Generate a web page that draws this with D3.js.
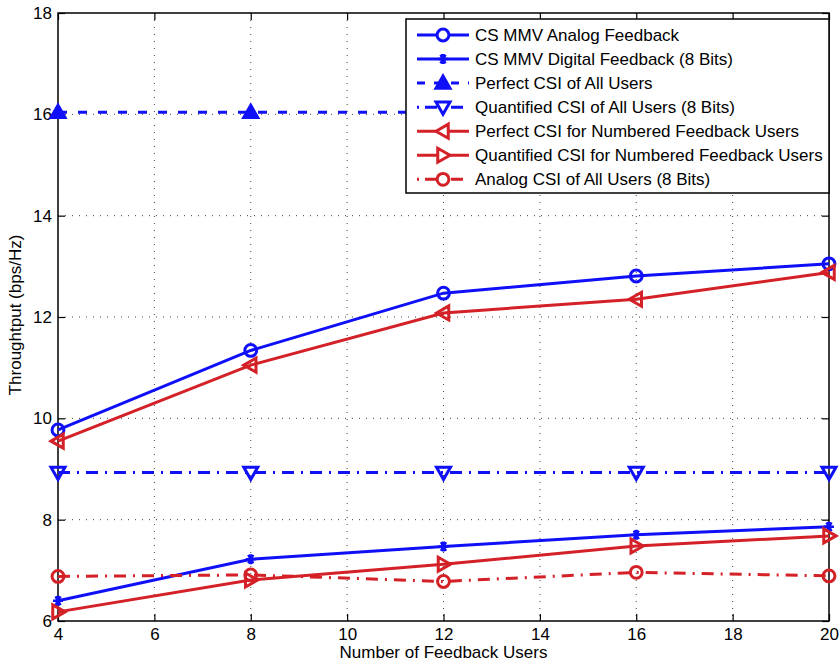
<!DOCTYPE html>
<html>
<head>
<meta charset="utf-8">
<script src="https://cdn.jsdelivr.net/npm/d3@7"></script>
<style>
  body { margin: 0; background: #fff; }
  text { font-family: "Liberation Sans", Arial, sans-serif; fill: #000; }
</style>
</head>
<body>
<div id="chart"></div>
<script>
// values
var users = [4, 8, 12, 16, 20];
var csAnalog = [9.77, 11.34, 12.47, 12.81, 13.05];
var csDigital = [6.40, 7.22, 7.47, 7.70, 7.86];
var perfectAll = [16.04, 16.04, 16.04, 16.04, 16.04];
var quantAll = [8.93, 8.93, 8.93, 8.93, 8.93];
var perfectNum = [9.55, 11.05, 12.08, 12.35, 12.88];
var quantNum = [6.18, 6.81, 7.12, 7.48, 7.68];
var analogAll = [6.88, 6.91, 6.78, 6.96, 6.89];

var xTicks = [4, 6, 8, 10, 12, 14, 16, 18, 20];
var yTicks = [6, 8, 10, 12, 14, 16, 18];

var seriesNames = [
  "CS MMV Analog Feedback",
  "CS MMV Digital Feedback (8 Bits)",
  "Perfect CSI of All Users",
  "Quantified CSI of All Users (8 Bits)",
  "Perfect CSI for Numbered Feedback Users",
  "Quantified CSI for Numbered Feedback Users",
  "Analog CSI of All Users (8 Bits)"
];

(function() {
  var width = 840, height = 669;
  var left = 58, right = 829, top = 13, bottom = 621;
  var blue = "#0f0ff8", red = "#d42027";
  var legX = 406, legY = 19, legW = 423, legH = 174;

  var svg = d3.select("#chart")
    .append("svg")
    .attr("width", width)
    .attr("height", height);

  // everything under the legend box is hidden (matlab draws the legend opaque on top)
  var clip = svg.append("defs").append("clipPath").attr("id", "outside-legend");
  clip.append("rect").attr("x", 0).attr("y", 0).attr("width", legX).attr("height", height);
  clip.append("rect").attr("x", 0).attr("y", legY + legH).attr("width", width).attr("height", height);

  var x = d3.scaleLinear().domain([4, 20]).range([left, right]);
  var y = d3.scaleLinear().domain([6, 18]).range([bottom, top]);

  // dotted grid
  svg.append("g").selectAll("line")
    .data(xTicks.slice(1, -1))
    .enter().append("line")
    .attr("x1", function(d) { return x(d); })
    .attr("x2", function(d) { return x(d); })
    .attr("y1", top).attr("y2", bottom)
    .attr("stroke", "#444").attr("stroke-width", 1)
    .attr("stroke-dasharray", "1,6");

  svg.append("g").selectAll("line")
    .data(yTicks.slice(1, -1))
    .enter().append("line")
    .attr("y1", function(d) { return y(d); })
    .attr("y2", function(d) { return y(d); })
    .attr("x1", left).attr("x2", right)
    .attr("stroke", "#444").attr("stroke-width", 1)
    .attr("stroke-dasharray", "1,6");

  // axes, ticks inside like matlab
  var tl = 7;
  var xAxis = d3.axisBottom(x).tickValues(xTicks).tickFormat(d3.format("d")).tickSize(-tl).tickPadding(7);
  var yAxis = d3.axisLeft(y).tickValues(yTicks).tickFormat(d3.format("d")).tickSize(-tl).tickPadding(6);

  svg.append("g")
    .attr("transform", "translate(0," + bottom + ")")
    .call(xAxis);
  svg.append("g")
    .attr("transform", "translate(" + left + ",0)")
    .call(yAxis);
  svg.append("g")
    .attr("transform", "translate(0," + top + ")")
    .call(d3.axisTop(x).tickValues(xTicks).tickFormat("").tickSize(-tl));
  svg.append("g")
    .attr("transform", "translate(" + right + ",0)")
    .call(d3.axisRight(y).tickValues(yTicks).tickFormat("").tickSize(-tl));

  svg.selectAll(".domain").remove();
  svg.selectAll(".tick line").attr("stroke", "#000").attr("stroke-width", 1.2);
  svg.selectAll(".tick text").style("font-size", "17px").attr("fill", "#000");

  svg.append("rect")
    .attr("x", left).attr("y", top)
    .attr("width", right - left).attr("height", bottom - top)
    .attr("fill", "none").attr("stroke", "#000").attr("stroke-width", 1.5);

  // marker shapes
  function marker(type) {
    var s = 7;
    if (type == "circle") return d3.symbol().type(d3.symbolCircle).size(110)();
    if (type == "star") return "M-5,0L5,0M-2.5,-4.3L2.5,4.3M2.5,-4.3L-2.5,4.3M0,-5L0,5";
    if (type == "up") return "M0," + (-s) + "L" + s + "," + (s * 0.75) + "L" + (-s) + "," + (s * 0.75) + "Z";
    if (type == "down") return "M0," + s + "L" + s + "," + (-s * 0.75) + "L" + (-s) + "," + (-s * 0.75) + "Z";
    if (type == "left") return "M" + (-s) + ",0L" + (s * 0.75) + "," + (-s) + "L" + (s * 0.75) + "," + s + "Z";
    if (type == "right") return "M" + s + ",0L" + (-s * 0.75) + "," + (-s) + "L" + (-s * 0.75) + "," + s + "Z";
  }

  var series = [
    { values: csAnalog, color: blue, dash: null, mark: "circle", fill: "none" },
    { values: csDigital, color: blue, dash: null, mark: "star", fill: "none" },
    { values: perfectAll, color: blue, dash: "9,11", mark: "up", fill: blue },
    { values: quantAll, color: blue, dash: "12,7,2,7", mark: "down", fill: "none" },
    { values: perfectNum, color: red, dash: null, mark: "left", fill: "none" },
    { values: quantNum, color: red, dash: null, mark: "right", fill: "none" },
    { values: analogAll, color: red, dash: "12,7,2,7", mark: "circle", fill: "none" }
  ];

  var line = d3.line()
    .x(function(d, i) { return x(users[i]); })
    .y(function(d) { return y(d); });

  var plot = svg.append("g").attr("clip-path", "url(#outside-legend)");

  series.forEach(function(s) {
    plot.append("path")
      .datum(s.values)
      .attr("d", line)
      .attr("fill", "none")
      .attr("stroke", s.color)
      .attr("stroke-width", 3)
      .attr("stroke-dasharray", s.dash);

    plot.append("g").selectAll("path")
      .data(s.values)
      .enter().append("path")
      .attr("transform", function(d, i) { return "translate(" + x(users[i]) + "," + y(d) + ")"; })
      .attr("d", marker(s.mark))
      .attr("fill", s.fill)
      .attr("stroke", s.color)
      .attr("stroke-width", s.mark == "star" ? 2.5 : 3)
      .attr("stroke-linejoin", "miter");
  });

  // legend
  var lg = svg.append("g");
  lg.append("rect")
    .attr("x", legX).attr("y", legY)
    .attr("width", legW).attr("height", legH)
    .attr("fill", "#fff").attr("stroke", "#000").attr("stroke-width", 1.5);

  var rows = lg.selectAll(".row")
    .data(series)
    .enter().append("g")
    .attr("class", "row")
    .attr("transform", function(d, i) { return "translate(0," + (35 + i * 24.05) + ")"; });

  rows.append("line")
    .attr("x1", 417).attr("x2", 469)
    .attr("stroke", function(d) { return d.color; })
    .attr("stroke-width", 3)
    .attr("stroke-dasharray", function(d) { return d.dash ? (d.dash == "9,11" ? "8,9" : "2,6,12,6") : null; });

  rows.append("path")
    .attr("transform", "translate(443,0)")
    .attr("d", function(d) { return marker(d.mark); })
    .attr("fill", function(d) { return d.fill == "none" ? "#fff" : d.fill; })
    .attr("stroke", function(d) { return d.color; })
    .attr("stroke-width", function(d) { return d.mark == "star" ? 2.5 : 3; });

  rows.append("text")
    .attr("x", 475)
    .attr("dy", "0.35em")
    .style("font-size", "17px")
    .text(function(d, i) { return seriesNames[i]; });

  // axis titles
  svg.append("text")
    .attr("x", (left + right) / 2)
    .attr("y", 658)
    .attr("text-anchor", "middle")
    .style("font-size", "17px")
    .text("Number of Feedback Users");

  svg.append("text")
    .attr("transform", "translate(21," + 315 + ") rotate(-90)")
    .attr("text-anchor", "middle")
    .style("font-size", "17px")
    .text("Throughtput (bps/Hz)");
})();
</script>
</body>
</html>
